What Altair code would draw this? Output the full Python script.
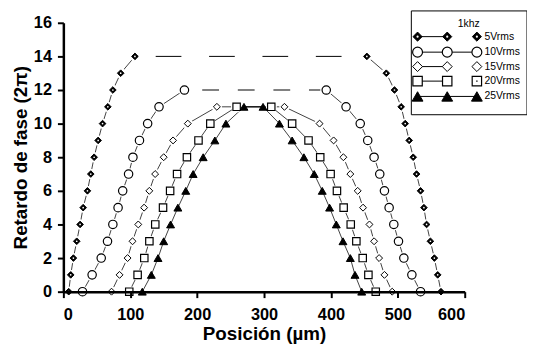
import altair as alt
import pandas as pd

FONT = "Liberation Sans"

series_names = ["5Vrms", "10Vrms", "15Vrms", "20Vrms", "25Vrms"]

# rising branch (y = 0,1,2,...) and falling branch (y = top ... 0)
x5_up = [8, 11, 15, 20, 25, 29.6, 36, 41, 46, 52, 58.6, 66.5, 74, 85.7, 107]
x5_down = [453.7, 482.8, 495, 505, 511, 517, 523, 528, 534, 539, 543, 548.7, 554.6, 559.6, 564.5]
x10_up = [28.6, 43, 56.6, 66, 74, 81.8, 88.7, 97.5, 104, 113.8, 126, 143, 181]
x10_down = [393, 422.6, 443.8, 455, 464.5, 473, 480, 487, 494, 501, 509, 521, 534]
x15_up = [72, 84, 96, 103.4, 112, 120.7, 128.5, 137.2, 150, 164, 186, 229.5]
x15_down = [330.5, 383, 404, 418.6, 429, 440, 448, 457.6, 464.5, 472, 480, 491.6]
x20_up = [98.5, 111, 121, 128.6, 137.4, 149, 159.6, 170, 184.7, 202, 219.7, 259]
x20_down = [310.8, 342, 366.5, 384, 399.5, 409, 419, 429.6, 438, 447.5, 456, 467]
x25_up = [118, 131.5, 141.5, 150, 160.3, 171.2, 183, 194, 209, 226.5, 243, 270]
x25_down = [298.5, 323, 342, 359.6, 375, 387, 398, 408, 418, 429, 436, 446]

ups = [x5_up, x10_up, x15_up, x20_up, x25_up]
downs = [x5_down, x10_down, x15_down, x20_down, x25_down]

rows = []
for name, up, down in zip(series_names, ups, downs):
    top = len(up) - 1
    yu = list(range(0, top + 1))
    yd = list(range(top, -1, -1))
    for i, (xv, yv) in enumerate(zip(up, yu)):
        rows.append({"series": name, "x": xv, "y": yv, "branch": "up", "ord": i})
    for i, (xv, yv) in enumerate(zip(down, yd)):
        rows.append({"series": name, "x": xv, "y": yv, "branch": "down", "ord": len(up) + i})
df = pd.DataFrame(rows)

# line grouping: 5V and 10V have separate branches (dashed top), others continuous
df["line_id"] = df.apply(
    lambda r: r["series"] + ("_" + r["branch"] if r["series"] in ("5Vrms", "10Vrms") else ""), axis=1)

X = alt.X("x:Q", scale=alt.Scale(domain=[0, 600], nice=False, zero=False),
          axis=alt.Axis(values=[0, 100, 200, 300, 400, 500, 600], title="Posición (µm)",
                        labelPadding=9, titlePadding=2, zindex=1))
Y = alt.Y("y:Q", scale=alt.Scale(domain=[0, 16], nice=False, zero=False),
          axis=alt.Axis(values=list(range(0, 17, 2)), title="Retardo de fase (2π)",
                        labelPadding=6, titlePadding=3, zindex=1))

base = alt.Chart(df)

lines = base.mark_line(color="black", strokeWidth=0.75).encode(
    x=X, y=Y, detail="line_id:N", order="ord:Q")

def top_connector(name, dash, offset):
    sub = df[df["series"] == name]
    ymax = sub["y"].max()
    pk = sub[sub["y"] == ymax].sort_values("x")
    return alt.Chart(pk).mark_line(color="black", strokeWidth=1,
                                   strokeDash=dash, strokeDashOffset=offset).encode(
        x=X, y=Y, order="x:Q")

dash5 = top_connector("5Vrms", [26, 28], 33)
dash10 = top_connector("10Vrms", [17, 19], 18)

def pts(name, **kw):
    return alt.Chart(df[df["series"] == name]).mark_point(opacity=1, **kw).encode(x=X, y=Y)

# white gaps around symbols (line-to-symbol gap, as in the original plot)
halo_size = {"5Vrms": 110, "10Vrms": 150, "15Vrms": 110, "20Vrms": 130}
halos = [pts(n, shape="circle", filled=True, fill="white", strokeWidth=0, size=s)
         for n, s in halo_size.items()]

p5 = pts("5Vrms", shape="diamond", filled=True, fill="black", stroke="black", strokeWidth=1, size=45)
p5dot = pts("5Vrms", shape="circle", filled=True, fill="white", strokeWidth=0, size=3)
p10 = pts("10Vrms", shape="circle", filled=True, fill="white", stroke="black", strokeWidth=1.2, size=72)
p15 = pts("15Vrms", shape="diamond", filled=True, fill="white", stroke="black", strokeWidth=1, size=49)
p20 = pts("20Vrms", shape="square", filled=True, fill="white", stroke="black", strokeWidth=1.2, size=56)
p25 = pts("25Vrms", shape="triangle-up", filled=True, fill="black", stroke="black", strokeWidth=1, size=64)

# ---- legend (manual) ----
one = pd.DataFrame({"a": [0]})
leg = []
leg.append(alt.Chart(one).mark_rect(fill="white", stroke="black", strokeWidth=1).encode(
    x=alt.value(352), x2=alt.value(469), y=alt.value(-12), y2=alt.value(93)))
leg.append(alt.Chart(one).mark_text(font=FONT, fontSize=10.5, align="center", baseline="middle",
                                     color="black").encode(
    x=alt.value(410), y=alt.value(1.5), text=alt.value("1khz")))

sym_x = [358.3, 388.3, 418.3]
row_y = [14, 29.7, 44.3, 59, 74.5]
line_span = {"5Vrms": 1, "10Vrms": 2, "15Vrms": 1, "20Vrms": 1, "25Vrms": 2}
styles = {
    "5Vrms": dict(shape="diamond", filled=True, fill="black", stroke="black", strokeWidth=1, size=85),
    "10Vrms": dict(shape="circle", filled=True, fill="white", stroke="black", strokeWidth=1.2, size=100),
    "15Vrms": dict(shape="diamond", filled=True, fill="white", stroke="black", strokeWidth=1, size=100),
    "20Vrms": dict(shape="square", filled=True, fill="white", stroke="black", strokeWidth=1.2, size=90),
    "25Vrms": dict(shape="triangle-up", filled=True, fill="black", stroke="black", strokeWidth=1, size=120),
}
for name, ry in zip(series_names, row_y):
    leg.append(alt.Chart(one).mark_rule(color="black", strokeWidth=1).encode(
        x=alt.value(sym_x[0]), x2=alt.value(sym_x[line_span[name]]), y=alt.value(ry)))
    for sx in sym_x:
        leg.append(alt.Chart(one).mark_point(opacity=1, **styles[name]).encode(
            x=alt.value(sx), y=alt.value(ry)))
        if name == "5Vrms":
            leg.append(alt.Chart(one).mark_point(opacity=1, shape="circle", filled=True, fill="white",
                                                 strokeWidth=0, size=5).encode(
                x=alt.value(sx), y=alt.value(ry)))
        if name == "20Vrms" and sx == sym_x[2]:
            leg.append(alt.Chart(one).mark_point(opacity=1, shape="square", filled=True, fill="black",
                                                 strokeWidth=0, size=2).encode(
                x=alt.value(sx), y=alt.value(ry)))
    leg.append(alt.Chart(one).mark_text(font=FONT, fontSize=10.5, align="left", baseline="middle",
                                         color="black").encode(
        x=alt.value(426), y=alt.value(ry), text=alt.value(name)))

chart = alt.layer(lines, dash5, dash10, *halos, p5, p5dot, p10, p15, p20, p25, *leg).properties(
    width=406, height=272,
    autosize=alt.AutoSizeParams(type="none"),
    padding={"left": 56, "top": 13, "right": 63, "bottom": 54},
).configure_view(stroke=None).configure_axis(
    grid=False,
    domainColor="black", domainWidth=2.5,
    tickColor="black", tickWidth=2, tickSize=6,
    labelFont=FONT, labelFontSize=16.5, labelFontWeight="bold", labelColor="black",
    titleFont=FONT, titleFontSize=19, titleFontWeight="bold", titleColor="black",
)

chart.save("out.html", embed_options={"renderer": "svg", "actions": False})
